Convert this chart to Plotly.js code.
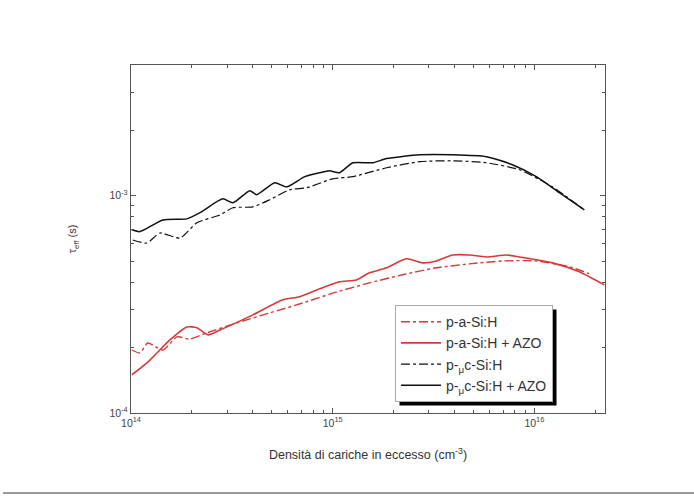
<!DOCTYPE html>
<html>
<head>
<meta charset="utf-8">
<script src="https://cdn.plot.ly/plotly-3.0.1.min.js"></script>
<style>
html,body{margin:0;padding:0;background:#fff;}
#chart{width:694px;height:496px;}
</style>
</head>
<body>
<div id="chart"></div>
<script>
// Series data (x: excess carrier density in cm^-3, y: effective lifetime in s)
const xAmorph = [1.01e14, 1.108e14, 1.21e14, 1.44e14, 1.69e14, 1.96e14, 2.38e14, 3.35e14, 4.88e14, 7.10e14, 1.05e15, 1.52e15, 2.22e15, 3.27e15, 4.77e15, 6.95e15, 1.023e16, 1.49e16, 1.87e16];
const yAmorph = [1.95e-4, 1.89e-4, 2.10e-4, 1.95e-4, 2.24e-4, 2.19e-4, 2.34e-4, 2.60e-4, 2.89e-4, 3.21e-4, 3.61e-4, 3.97e-4, 4.33e-4, 4.66e-4, 4.86e-4, 5.01e-4, 5.01e-4, 4.71e-4, 4.38e-4];

const xAmorphAZO = [1.01e14, 1.20e14, 1.56e14, 1.89e14, 2.12e14, 2.41e14, 2.76e14, 4.02e14, 5.66e14, 6.87e14, 8.62e14, 1.08e15, 1.31e15, 1.52e15, 1.85e15, 2.32e15, 2.79e15, 3.27e15, 3.93e15, 4.77e15, 5.78e15, 7.27e15, 8.43e15, 1.23e16, 1.67e16, 2.22e16];
const yAmorphAZO = [1.50e-4, 1.70e-4, 2.17e-4, 2.49e-4, 2.47e-4, 2.29e-4, 2.41e-4, 2.83e-4, 3.32e-4, 3.43e-4, 3.73e-4, 4.02e-4, 4.10e-4, 4.42e-4, 4.66e-4, 5.13e-4, 4.91e-4, 5.01e-4, 5.34e-4, 5.34e-4, 5.23e-4, 5.34e-4, 5.23e-4, 4.91e-4, 4.47e-4, 3.89e-4];

const xMicro = [1.02e14, 1.20e14, 1.39e14, 1.75e14, 2.12e14, 2.76e14, 3.20e14, 4.02e14, 4.88e14, 6.12e14, 7.43e14, 1.0e15, 1.26e15, 1.85e15, 2.70e15, 3.93e15, 5.78e15, 8.43e15, 1.23e16, 1.77e16];
const yMicro = [6.26e-4, 6.06e-4, 6.74e-4, 6.39e-4, 7.51e-4, 8.16e-4, 8.81e-4, 8.89e-4, 9.59e-4, 1.066e-3, 1.089e-3, 1.197e-3, 1.225e-3, 1.346e-3, 1.435e-3, 1.449e-3, 1.419e-3, 1.318e-3, 1.099e-3, 8.61e-4];

const xMicroAZO = [1.01e14, 1.108e14, 1.44e14, 1.89e14, 2.20e14, 2.85e14, 3.20e14, 3.88e14, 4.20e14, 5.16e14, 5.92e14, 7.27e14, 8.62e14, 9.66e14, 1.08e15, 1.26e15, 1.58e15, 1.85e15, 2.70e15, 3.93e15, 5.78e15, 7.78e15, 1.023e16, 1.33e16, 1.77e16];
const yMicroAZO = [6.97e-4, 6.84e-4, 7.74e-4, 7.83e-4, 8.36e-4, 9.68e-4, 9.29e-4, 1.055e-3, 1.012e-3, 1.148e-3, 1.099e-3, 1.225e-3, 1.277e-3, 1.303e-3, 1.277e-3, 1.419e-3, 1.419e-3, 1.483e-3, 1.545e-3, 1.545e-3, 1.514e-3, 1.390e-3, 1.225e-3, 1.033e-3, 8.61e-4];

const seriesNames = ["p-a-Si:H", "p-a-Si:H + AZO", "p-<sub>μ</sub>c-Si:H", "p-<sub>μ</sub>c-Si:H + AZO"];

const xTickVals = [1e14, 1e15, 1e16];
const xTickText = ["10<sup>14</sup>", "10<sup>15</sup>", "10<sup>16</sup>"];
const yTickVals = [1e-4, 1e-3];
const yTickText = ["10<sup>-4</sup>", "10<sup>-3</sup>"];

const xRange = [1e14, 2.24e16];
const yRange = [1e-4, 4e-3];

function minorTicks(lo, hi) {
  const out = [];
  for (let e = Math.floor(Math.log10(lo)); e <= Math.ceil(Math.log10(hi)); e++) {
    for (let m = 2; m <= 9; m++) {
      const v = m * Math.pow(10, e);
      if (v > lo && v < hi) out.push(v);
    }
  }
  return out;
}

const red = '#d43a3a';
const blk = '#111111';
const FONT = 'Liberation Sans, Arial, sans-serif';

const traces = [
  {x: xAmorph, y: yAmorph, name: seriesNames[0], mode: 'lines', line: {color: red, width: 1.4, dash: 'dashdot', shape: 'spline', smoothing: 0.6}},
  {x: xAmorphAZO, y: yAmorphAZO, name: seriesNames[1], mode: 'lines', line: {color: red, width: 1.6, shape: 'spline', smoothing: 0.6}},
  {x: xMicro, y: yMicro, name: seriesNames[2], mode: 'lines', line: {color: blk, width: 1.2, dash: 'dashdot', shape: 'spline', smoothing: 0.6}},
  {x: xMicroAZO, y: yMicroAZO, name: seriesNames[3], mode: 'lines', line: {color: blk, width: 1.5, shape: 'spline', smoothing: 0.6}}
];

const axisCommon = {
  type: 'log',
  showgrid: false,
  zeroline: false,
  showline: true,
  linecolor: '#555',
  linewidth: 1.2,
  mirror: 'ticks',
  ticks: 'inside',
  ticklen: 5,
  tickcolor: '#555',
  tickfont: {family: FONT, size: 10.5, color: '#444'},
  tickmode: 'array'
};

const layout = {
  width: 694,
  height: 496,
  margin: {l: 131, r: 89, t: 65, b: 83},
  paper_bgcolor: '#ffffff',
  plot_bgcolor: '#ffffff',
  showlegend: true,
  legend: {
    x: 0.557, y: 0.31, xanchor: 'left', yanchor: 'top',
    bgcolor: '#ffffff', bordercolor: '#aaa', borderwidth: 1,
    font: {family: FONT, size: 14, color: '#333'},
    tracegroupgap: 0, itemwidth: 40
  },
  xaxis: Object.assign({}, axisCommon, {
    range: [Math.log10(xRange[0]), Math.log10(xRange[1])],
    tickvals: xTickVals, ticktext: xTickText,
    minor: {tickmode: 'array', tickvals: minorTicks(xRange[0], xRange[1]), ticks: 'inside', ticklen: 3, tickcolor: '#555'},
    title: {text: 'Densità di cariche in eccesso (cm<sup>-3</sup>)', font: {family: FONT, size: 12.5, color: '#333'}, standoff: 22}
  }),
  yaxis: Object.assign({}, axisCommon, {
    range: [Math.log10(yRange[0]), Math.log10(yRange[1])],
    tickvals: yTickVals, ticktext: yTickText,
    minor: {tickmode: 'array', tickvals: minorTicks(yRange[0], yRange[1]), ticks: 'inside', ticklen: 3, tickcolor: '#555'},
    title: {text: 'τ<sub>eff</sub> (s)', font: {family: FONT, size: 11, color: '#333'}, standoff: 30}
  }),
  shapes: [
    {type: 'line', xref: 'paper', yref: 'paper', x0: -0.27, x1: 1.19, y0: -0.23, y1: -0.23, line: {color: '#999', width: 2}}
  ]
};

const gd = document.getElementById('chart');
Plotly.newPlot(gd, traces, layout, {displayModeBar: false, staticPlot: true}).then(function () {
  // drop shadow behind the legend box, placed from the legend's drawn size
  const bg = gd.querySelector('.legend .bg');
  if (!bg) return;
  const b = bg.getBoundingClientRect();
  const c = gd.getBoundingClientRect();
  const pl = gd._fullLayout._size;
  const off = 4;
  const toPX = px => (px - c.left - pl.l) / pl.w;
  const toPY = py => 1 - (py - c.top - pl.t) / pl.h;
  const shadow = {type: 'rect', xref: 'paper', yref: 'paper',
    x0: toPX(b.left + off), x1: toPX(b.right + off),
    y0: toPY(b.bottom + off), y1: toPY(b.top + off),
    fillcolor: '#000', line: {width: 0}, layer: 'below'};
  Plotly.relayout(gd, {shapes: layout.shapes.concat([shadow])});
});
</script>
</body>
</html>
